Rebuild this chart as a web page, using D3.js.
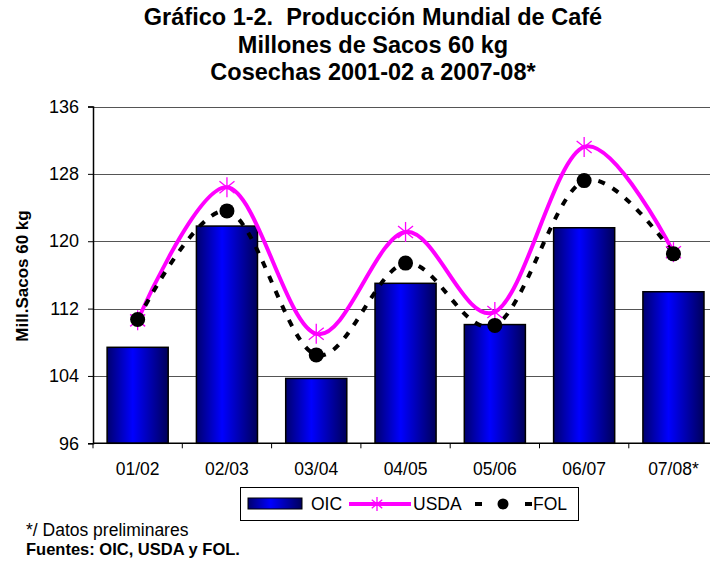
<!DOCTYPE html>
<html>
<head>
<meta charset="utf-8">
<script src="https://cdn.jsdelivr.net/npm/d3@7"></script>
<style>
body { margin: 0; background: #fff; }
text { font-family: "Liberation Sans", Arial, sans-serif; }
</style>
</head>
<body>
<script>
// data
var cosechas = ["01/02", "02/03", "03/04", "04/05", "05/06", "06/07", "07/08*"];
var oic  = [107.4, 121.8, 103.7, 115.0, 110.1, 121.6, 114.0];
var usda = [110.6, 126.4, 109.0, 121.1, 111.6, 131.2, 118.7];
var fol  = [110.7, 123.6, 106.5, 117.4, 110.0, 127.2, 118.5];
var yTicks = [96, 104, 112, 120, 128, 136];

var width = 710, height = 566;
var svg = d3.select("body").append("svg")
    .attr("width", width)
    .attr("height", height);

var left = 93, plotTop = 106.5, plotBottom = 443.3;
var x = d3.scaleBand()
    .domain(cosechas)
    .range([left, left + 7 * 89.3])
    .paddingInner(0.316)
    .paddingOuter(0.158);
var xb = d3.scaleBand().domain(cosechas).range([left, left + 7 * 89.3]);
var y = d3.scaleLinear().domain([96, 136]).range([plotBottom, plotTop]);

// gradient for the bars
var defs = svg.append("defs");
var grad = defs.append("linearGradient").attr("id", "barGrad")
    .attr("x1", "0%").attr("y1", "0%").attr("x2", "100%").attr("y2", "0%");
grad.append("stop").attr("offset", "0%").attr("stop-color", "#00006e");
grad.append("stop").attr("offset", "42%").attr("stop-color", "#0000ff");
grad.append("stop").attr("offset", "100%").attr("stop-color", "#00005a");

// titles
var titles = ["Gráfico 1-2.  Producción Mundial de Café", "Millones de Sacos 60 kg", "Cosechas 2001-02 a 2007-08*"];
svg.selectAll(".title")
    .data(titles)
    .enter()
    .append("text")
    .attr("class", "title")
    .attr("x", 373)
    .attr("y", function(d, i) { return 25 + i * 27.5; })
    .attr("text-anchor", "middle")
    .style("font-size", "23.5px")
    .style("font-weight", "bold")
    .style("white-space", "pre")
    .text(function(d) { return d; });

// gridlines
svg.append("g")
    .selectAll("line")
    .data(yTicks.slice(1))
    .enter()
    .append("line")
    .attr("x1", left).attr("x2", width)
    .attr("y1", function(d) { return Math.round(y(d)) + 0.5; })
    .attr("y2", function(d) { return Math.round(y(d)) + 0.5; })
    .attr("stroke", "#555")
    .attr("stroke-width", 1.2);

// bars
svg.append("g")
    .selectAll("rect")
    .data(oic)
    .enter()
    .append("rect")
    .attr("x", function(d, i) { return x(cosechas[i]); })
    .attr("y", function(d) { return y(d); })
    .attr("width", x.bandwidth())
    .attr("height", function(d) { return plotBottom - y(d); })
    .attr("fill", "url(#barGrad)")
    .attr("stroke", "#000")
    .attr("stroke-width", 1.5);

// axes
var yAxis = d3.axisLeft(y).tickValues(yTicks).tickSize(5).tickPadding(9);
var gy = svg.append("g").attr("transform", "translate(" + left + ",0)").call(yAxis);
gy.select(".domain").attr("stroke", "#000").attr("stroke-width", 1.5);
gy.selectAll("text").style("font-size", "18px").attr("fill", "#000")
    .style("font-family", "Liberation Sans, Arial, sans-serif");

var gx = svg.append("g").attr("transform", "translate(0," + plotBottom + ")");
gx.append("line").attr("x1", left).attr("x2", width)
    .attr("stroke", "#000").attr("stroke-width", 1.5);
gx.selectAll(".tk")
    .data(cosechas)
    .enter()
    .append("line")
    .attr("x1", function(d) { return xb(d); })
    .attr("x2", function(d) { return xb(d); })
    .attr("y1", 0).attr("y2", 5)
    .attr("stroke", "#000");
gx.selectAll(".lbl")
    .data(cosechas)
    .enter()
    .append("text")
    .attr("x", function(d) { return xb(d) + xb.bandwidth() / 2; })
    .attr("y", 31.5)
    .attr("text-anchor", "middle")
    .style("font-size", "17.5px")
    .text(function(d) { return d; });

// y label
svg.append("text")
    .attr("transform", "translate(28,276) rotate(-90)")
    .attr("text-anchor", "middle")
    .style("font-size", "17px")
    .style("font-weight", "bold")
    .text("Mill.Sacos 60 kg");

// lines
var cx = function(d, i) { return xb(cosechas[i]) + xb.bandwidth() / 2; };
var line = d3.line()
    .x(cx)
    .y(function(d) { return y(d); })
    .curve(d3.curveCatmullRom.alpha(0));

svg.append("path")
    .attr("d", line(usda))
    .attr("fill", "none")
    .attr("stroke", "#ff00ff")
    .attr("stroke-width", 4);

svg.append("path")
    .attr("d", line(fol))
    .attr("fill", "none")
    .attr("stroke", "#000")
    .attr("stroke-width", 4)
    .attr("stroke-dasharray", "7,9");

function star(g, px, py, r) {
    var s = g.append("g").attr("transform", "translate(" + px + "," + py + ")")
        .attr("stroke", "#ff00ff").attr("stroke-width", 1.3);
    s.append("line").attr("x1", 0).attr("x2", 0).attr("y1", -r).attr("y2", r);
    s.append("line").attr("x1", -r * 0.75).attr("x2", r * 0.75).attr("y1", -r * 0.6).attr("y2", r * 0.6);
    s.append("line").attr("x1", -r * 0.75).attr("x2", r * 0.75).attr("y1", r * 0.6).attr("y2", -r * 0.6);
}

var starG = svg.append("g");
usda.forEach(function(d, i) { star(starG, cx(d, i), y(d), 10); });

svg.append("g")
    .selectAll("circle")
    .data(fol)
    .enter()
    .append("circle")
    .attr("cx", cx)
    .attr("cy", function(d) { return y(d); })
    .attr("r", 7.5)
    .attr("fill", "#000");

// legend
var lg = svg.append("g");
lg.append("rect").attr("x", 240.5).attr("y", 487.5).attr("width", 338).attr("height", 33)
    .attr("fill", "#fff").attr("stroke", "#000").attr("stroke-width", 1);
lg.append("rect").attr("x", 248).attr("y", 498).attr("width", 54).attr("height", 11)
    .attr("fill", "url(#barGrad)").attr("stroke", "#000").attr("stroke-width", 1);
lg.append("text").attr("x", 311).attr("y", 510).style("font-size", "17.5px").text("OIC");
lg.append("line").attr("x1", 349).attr("x2", 411).attr("y1", 504).attr("y2", 504)
    .attr("stroke", "#ff00ff").attr("stroke-width", 4);
star(lg, 377, 504, 7);
lg.append("text").attr("x", 413).attr("y", 510).style("font-size", "17.5px").text("USDA");
lg.append("line").attr("x1", 475).attr("x2", 482).attr("y1", 504).attr("y2", 504)
    .attr("stroke", "#000").attr("stroke-width", 4);
lg.append("circle").attr("cx", 503).attr("cy", 504).attr("r", 5.5).attr("fill", "#000");
lg.append("line").attr("x1", 525).attr("x2", 532).attr("y1", 504).attr("y2", 504)
    .attr("stroke", "#000").attr("stroke-width", 4);
lg.append("text").attr("x", 533).attr("y", 510).style("font-size", "17.5px").text("FOL");

// notes
svg.append("text").attr("x", 26).attr("y", 536).style("font-size", "17.5px").text("*/ Datos preliminares");
svg.append("text").attr("x", 26).attr("y", 555).style("font-size", "16.5px").style("font-weight", "bold")
    .text("Fuentes: OIC, USDA y FOL.");
</script>
</body>
</html>
